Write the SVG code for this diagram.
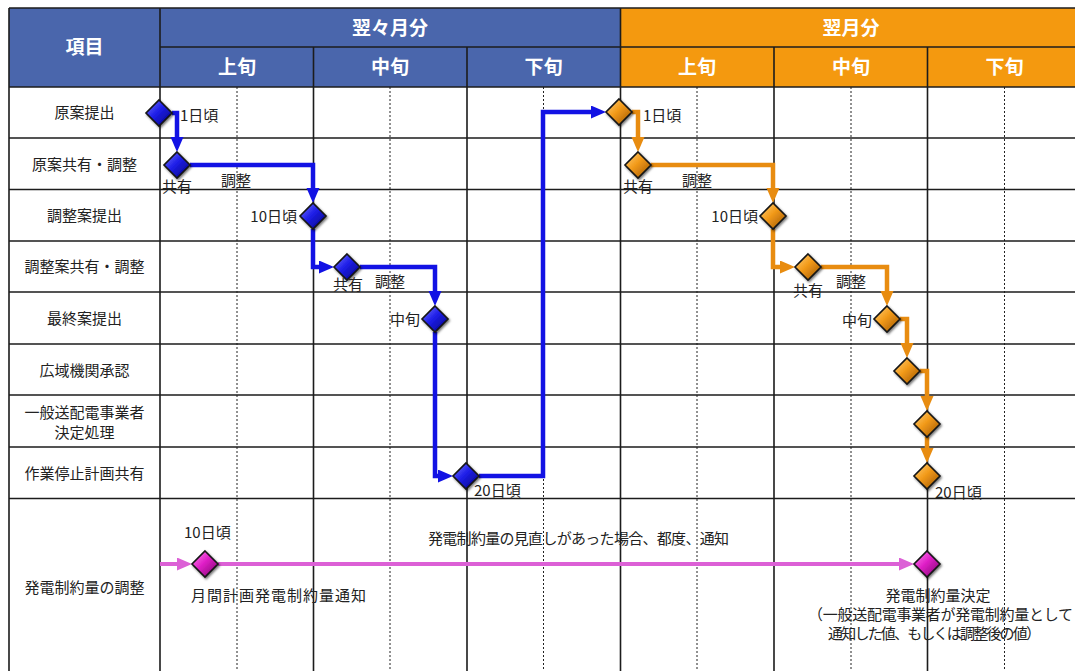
<svg xmlns="http://www.w3.org/2000/svg" width="1075" height="671" viewBox="0 0 1075 671">
<style>
text{font-family:"Noto Sans CJK JP","Noto Sans",sans-serif;}
.hd{font-size:19px;font-weight:bold;fill:#fff;text-anchor:middle;}
.rl{font-size:15px;fill:#222;text-anchor:middle;}
.lb{font-size:15px;fill:#222;}
.end{text-anchor:end;}
.mid{text-anchor:middle;}
.gl{stroke:#1c1c1c;stroke-width:1.6;fill:none;}
.dl{stroke:#222;stroke-width:1;stroke-dasharray:2 2;fill:none;}
.cb{stroke:#1212E4;stroke-width:4.5;fill:none;marker-end:url(#ab);}
.co{stroke:#E88C10;stroke-width:4.5;fill:none;marker-end:url(#ao);}
.cp{stroke:#DC60D6;stroke-width:4;fill:none;marker-end:url(#ap);}
.db{fill:url(#gb);}
.do{fill:url(#go);}
.dp{fill:url(#gp);}
.dia{stroke:#151515;stroke-width:1.6;filter:url(#sh);}
</style>
<defs>
<linearGradient id="gb" x1="0" y1="0" x2="1" y2="1"><stop offset="0" stop-color="#7A7AFF"/><stop offset="0.45" stop-color="#1E1EE8"/><stop offset="1" stop-color="#00007A"/></linearGradient>
<linearGradient id="go" x1="0" y1="0" x2="1" y2="1"><stop offset="0" stop-color="#FFD27A"/><stop offset="0.45" stop-color="#F29A1A"/><stop offset="1" stop-color="#9A5200"/></linearGradient>
<linearGradient id="gp" x1="0" y1="0" x2="1" y2="1"><stop offset="0" stop-color="#FF8CF0"/><stop offset="0.45" stop-color="#E020C8"/><stop offset="1" stop-color="#7A0068"/></linearGradient>
<filter id="sh" x="-30%" y="-30%" width="160%" height="160%"><feDropShadow dx="1.2" dy="1.5" stdDeviation="0.8" flood-color="#000" flood-opacity="0.55"/></filter>
<path id="d" d="M0,-13 L13,0 L0,13 L-13,0 Z"/>
<marker id="ab" markerUnits="userSpaceOnUse" markerWidth="16" markerHeight="14" refX="5" refY="6.5" orient="auto"><path d="M0,0 L15,6.5 L0,13 Z" fill="#1212E4"/></marker>
<marker id="ao" markerUnits="userSpaceOnUse" markerWidth="16" markerHeight="14" refX="5" refY="6.5" orient="auto"><path d="M0,0 L15,6.5 L0,13 Z" fill="#E88C10"/></marker>
<marker id="ap" markerUnits="userSpaceOnUse" markerWidth="16" markerHeight="14" refX="5" refY="6.5" orient="auto"><path d="M0,0 L15,6.5 L0,13 Z" fill="#DC60D6"/></marker>
</defs>
<rect width="1075" height="671" fill="#fff"/>
<g id="header">
<rect x="9" y="8" width="611.5" height="79" fill="#4A66AC"/>
<rect x="620.5" y="8" width="460" height="79" fill="#F4990F"/>
<text class="hd" x="84.5" y="54">項目</text>
<text class="hd" x="390" y="35">翌々月分</text>
<text class="hd" x="851" y="35">翌月分</text>
<text class="hd" x="237" y="74">上旬</text>
<text class="hd" x="390" y="74">中旬</text>
<text class="hd" x="543.5" y="74">下旬</text>
<text class="hd" x="697" y="74">上旬</text>
<text class="hd" x="851" y="74">中旬</text>
<text class="hd" x="1004.5" y="74">下旬</text>
</g>
<g id="grid">
<path class="dl" d="M237,87V671M390,87V671M543.5,87V671M697,87V671M851,87V671M1004.5,87V671"/>
<path class="gl" d="M9,8H1075M160,47H1075M9,87H1075M9,138H1075M9,189.5H1075M9,241H1075M9,292H1075M9,344H1075M9,395H1075M9,447H1075M9,498.5H1075"/>
<path class="gl" d="M9,8V671M160,8V671M620.5,8V671M313.5,47V671M467,47V671M774,47V671M927.5,47V671"/>
</g>
<g id="rowlabels">
<text class="rl" x="84.5" y="118">原案提出</text>
<text class="rl" x="84.5" y="169.5">原案共有・調整</text>
<text class="rl" x="84.5" y="220.5">調整案提出</text>
<text class="rl" x="84.5" y="272">調整案共有・調整</text>
<text class="rl" x="84.5" y="324">最終案提出</text>
<text class="rl" x="84.5" y="375.5">広域機関承認</text>
<text class="rl" x="84.5" y="417.5">一般送配電事業者</text>
<text class="rl" x="84.5" y="437.5">決定処理</text>
<text class="rl" x="84.5" y="478.5">作業停止計画共有</text>
<text class="rl" x="84.5" y="593">発電制約量の調整</text>
</g>
<g id="connectors">
<path class="cb" d="M172,113H177V142"/>
<path class="cb" d="M190,165H313V193"/>
<path class="cb" d="M313,229V267H324"/>
<path class="cb" d="M360,267H435V296"/>
<path class="cb" d="M435,332V476H443"/>
<path class="cb" d="M479,476H543V112H596"/>
<path class="co" d="M632,112H638V142"/>
<path class="co" d="M651,165H773V193"/>
<path class="co" d="M773,229V267H785"/>
<path class="co" d="M821,267H887V296"/>
<path class="co" d="M900,319H907V348"/>
<path class="co" d="M920,371H927V401"/>
<path class="co" d="M927,437V453"/>
<path class="cp" d="M160,564H182"/>
<path class="cp" d="M218,564H904"/>
</g>
<g id="b1"><use href="#d" class="dia db" x="159" y="113"/><text class="lb" x="180" y="120.5">1日頃</text></g>
<g id="b2"><use href="#d" class="dia db" x="177" y="165"/><text class="lb" x="162" y="191.5">共有</text><text class="lb" x="221" y="185.5">調整</text></g>
<g id="b3"><use href="#d" class="dia db" x="313" y="216"/><text class="lb end" x="297" y="222">10日頃</text></g>
<g id="b4"><use href="#d" class="dia db" x="347" y="267"/><text class="lb" x="333" y="289.5">共有</text><text class="lb" x="375" y="286.5">調整</text></g>
<g id="b5"><use href="#d" class="dia db" x="435" y="319"/><text class="lb end" x="420" y="324.5">中旬</text></g>
<g id="b6"><use href="#d" class="dia db" x="466" y="476"/><text class="lb" x="474" y="496">20日頃</text></g>
<g id="o1"><use href="#d" class="dia do" x="619" y="112"/><text class="lb" x="643" y="120.5">1日頃</text></g>
<g id="o2"><use href="#d" class="dia do" x="638" y="165"/><text class="lb" x="623" y="191.5">共有</text><text class="lb" x="682" y="185.5">調整</text></g>
<g id="o3"><use href="#d" class="dia do" x="773" y="216"/><text class="lb end" x="758" y="222">10日頃</text></g>
<g id="o4"><use href="#d" class="dia do" x="808" y="267"/><text class="lb" x="793" y="295.5">共有</text><text class="lb" x="836" y="286.5">調整</text></g>
<g id="o5"><use href="#d" class="dia do" x="887" y="319"/><text class="lb end" x="872" y="325.5">中旬</text></g>
<g id="o6"><use href="#d" class="dia do" x="907" y="371"/></g>
<g id="o7"><use href="#d" class="dia do" x="927" y="424"/></g>
<g id="o8"><use href="#d" class="dia do" x="927" y="476"/><text class="lb" x="935" y="498">20日頃</text></g>
<g id="p1"><use href="#d" class="dia dp" x="205" y="564"/><text class="lb" x="184" y="537.5">10日頃</text><text class="lb" x="191" y="600.5" textLength="175">月間計画発電制約量通知</text></g>
<g id="note"><text class="lb" x="428" y="543.5" textLength="301">発電制約量の見直しがあった場合、都度、通知</text></g>
<g id="p2"><use href="#d" class="dia dp" x="927" y="564"/>
<text class="lb mid" x="938" y="600.5">発電制約量決定</text>
<text class="lb" x="808" y="619.5" textLength="265">（一般送配電事業者が発電制約量として</text>
<text class="lb" x="828" y="638.5" textLength="213">通知した値、もしくは調整後の値）</text></g>
</svg>
